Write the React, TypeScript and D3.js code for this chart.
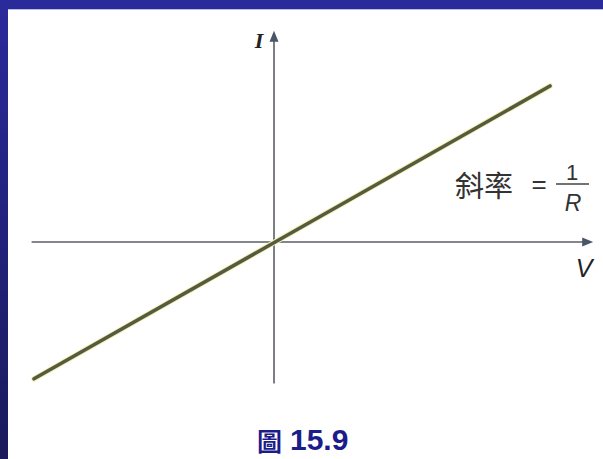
import React from "react";
import * as d3 from "d3";

// Line I = V / R through origin
const lineV: number[] = [-10, 11.5];
const lineI: number[] = [-5.7, 6.5];
// axis extents
const vAxisExtent: number[] = [-10.1, 13.3];
const iAxisExtent: number[] = [-5.9, 8.8];
const axisLabels: string[] = ["V", "I"];
const slopeLabel = "斜率";
const caption = ["圖", "15.9"];

const W = 603;
const H = 459;

export default function App() {
  const x = d3.scaleLinear().domain([0, 1]).range([274, 298]);
  const y = d3.scaleLinear().domain([0, 1]).range([242, 218]);
  const pts: [number, number][] = lineV.map((v, i) => [v, lineI[i]]);
  const line = d3
    .line<[number, number]>()
    .x((d) => x(d[0]))
    .y((d) => y(d[1]));

  const x0 = x(vAxisExtent[0]);
  const x1 = x(vAxisExtent[1]);
  const yb = y(iAxisExtent[0]);
  const yt = y(iAxisExtent[1]);
  const ox = x(0);
  const oy = y(0);
  const axisColor = "#5a5f66";
  const cjk = "'Noto Sans CJK TC', 'Noto Sans CJK SC', sans-serif";
  const sans = "'Liberation Sans', Arial, sans-serif";

  return (
    <svg
      width={W}
      height={H}
      style={{ position: "fixed", left: 0, top: 0, display: "block" }}
    >
      <defs>
        <linearGradient id="bg" x1="0" y1="0" x2="0" y2="1">
          <stop offset="0" stopColor="#2a2a9c" />
          <stop offset="1" stopColor="#1a1a5c" />
        </linearGradient>
      </defs>
      <rect x={0} y={0} width={W} height={H} fill="url(#bg)" />
      <rect x={8} y={9} width={W - 8} height={H - 9} fill="#ffffff" />
      <line x1={8} x2={W} y1={9.5} y2={9.5} stroke="#b8bce8" strokeWidth={1} />

      {/* horizontal axis */}
      <line x1={x0} x2={x1 - 8} y1={oy} y2={oy} stroke={axisColor} strokeWidth={1.6} />
      <path
        d={`M${x1},${oy} L${x1 - 11},${oy - 4.5} L${x1 - 11},${oy + 4.5} Z`}
        fill="#4a5566"
      />
      {/* vertical axis */}
      <line x1={ox} x2={ox} y1={yb} y2={yt + 8} stroke={axisColor} strokeWidth={1.6} />
      <path
        d={`M${ox},${yt} L${ox - 4.5},${yt + 11} L${ox + 4.5},${yt + 11} Z`}
        fill="#4a5566"
      />

      {/* data line */}
      <path d={line(pts) || ""} stroke="#f2f2b0" strokeWidth={5.5} fill="none" strokeLinecap="round" />
      <path d={line(pts) || ""} stroke="#575a42" strokeWidth={3.6} fill="none" strokeLinecap="round" />

      {/* axis labels */}
      <text
        x={259}
        y={48}
        fontFamily="'Liberation Serif', serif"
        fontStyle="italic"
        fontWeight="bold"
        fontSize={22}
        fill="#222"
        textAnchor="middle"
      >
        {axisLabels[1]}
      </text>
      <text
        x={584}
        y={277}
        fontFamily={sans}
        fontStyle="italic"
        fontSize={25}
        fill="#222"
        textAnchor="middle"
      >
        {axisLabels[0]}
      </text>

      {/* slope annotation */}
      <text x={455} y={197} fontFamily={cjk} fontSize={29} fill="#333">
        {slopeLabel}
      </text>
      <text
        x={539}
        y={193}
        fontFamily={sans}
        fontSize={26}
        fill="#333"
        textAnchor="middle"
      >
        =
      </text>
      <text
        x={572}
        y={180}
        fontFamily={sans}
        fontSize={22}
        fill="#333"
        textAnchor="middle"
      >
        1
      </text>
      <line x1={556} x2={589} y1={184} y2={184} stroke="#444" strokeWidth={1.6} />
      <text
        x={573}
        y={211}
        fontFamily={sans}
        fontStyle="italic"
        fontSize={23}
        fill="#333"
        textAnchor="middle"
      >
        R
      </text>

      {/* caption */}
      <text x={257} y={451} fontFamily={cjk} fontWeight="bold" fontSize={25} fill="#1c1c8a">
        {caption[0]}
      </text>
      <text x={290} y={450} fontFamily={sans} fontWeight="bold" fontSize={30} fill="#1c1c8a">
        {caption[1]}
      </text>
    </svg>
  );
}
